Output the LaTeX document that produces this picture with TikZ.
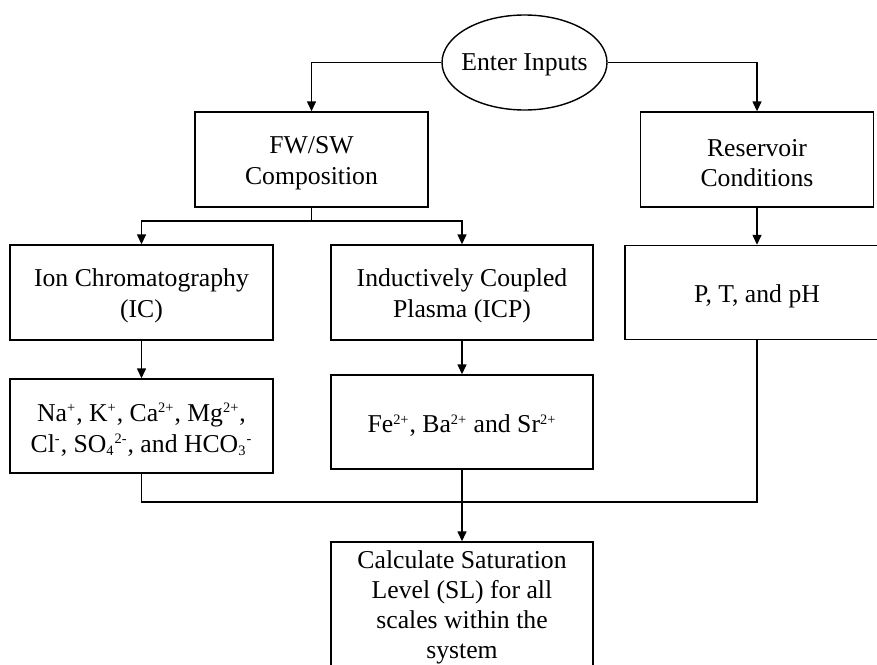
\documentclass[tikz,border=0pt]{standalone}
\usepackage{fontspec}
\setmainfont{Liberation Serif}
\usetikzlibrary{arrows.meta,shapes.geometric}
\newcommand\mysup[1]{\textsuperscript{\fontsize{7.2pt}{7.2pt}\selectfont #1}}
\newcommand\mysub[1]{\textsubscript{\fontsize{7.2pt}{7.2pt}\selectfont #1}}
\begin{document}
\begin{tikzpicture}[x=0.5pt,y=-0.5pt,
  every node/.style={font=\fontsize{12.85pt}{15.3pt}\selectfont},
  boxnode/.style={draw,line width=0.7pt,rectangle,inner sep=0pt},
  txt/.style={align=center,inner sep=0pt,yshift=-1.8pt},
  ovalnode/.style={draw,line width=0.7pt,ellipse,inner sep=0pt,minimum width=82.5pt,minimum height=47.5pt},
  conn/.style={line width=0.7pt},
  arr/.style={conn,-{Triangle[length=5pt,width=4.5pt]}}]
\useasboundingbox (0,0) rectangle (877,664);
\node[ovalnode,label={[txt,yshift=0.8pt]center:Enter Inputs}] (e) at (524.5,62.5) {};
\node[boxnode,minimum width=116.5pt,minimum height=47.5pt,label={[txt]center:{FW/SW\\Composition}}] (fw) at (311.5,159.5) {};
\node[boxnode,minimum width=116.5pt,minimum height=47.5pt,label={[txt]center:{Reservoir\\Conditions}}] (res) at (757,159.5) {};
\node[boxnode,minimum width=131.5pt,minimum height=47.5pt,label={[txt]center:{Ion Chromatography\\(IC)}}] (ic) at (141.5,292.5) {};
\node[boxnode,minimum width=131pt,minimum height=47.5pt,label={[txt]center:{Inductively Coupled\\Plasma (ICP)}}] (icp) at (462,292.5) {};
\node[boxnode,minimum width=132pt,minimum height=47pt,label={[txt]center:{P, T, and pH}}] (pt) at (757,292.5) {};
\node[boxnode,minimum width=131.5pt,minimum height=47pt,label={[txt]center:{Na\mysup{+}, K\mysup{+}, Ca\mysup{2+}, Mg\mysup{2+},\\Cl\mysup{-}, SO\mysub{4}\mysup{2-}, and HCO\mysub{3}\mysup{-}}}] (ions) at (141.5,426) {};
\node[boxnode,minimum width=131pt,minimum height=47pt,label={[txt]center:{Fe\mysup{2+}, Ba\mysup{2+} and Sr\mysup{2+}}}] (fe) at (462,422) {};
\node[boxnode,minimum width=131pt,minimum height=65pt,label={[txt,yshift=1.6pt,font=\fontsize{12.85pt}{15pt}\selectfont]center:{Calculate Saturation\\Level (SL) for all\\scales within the\\system}}] (calc) at (462,607) {};
\coordinate (br) at (311.5,221);
\coordinate (jl) at (141.5,502);
\coordinate (jr) at (757,502);
\draw[arr] (e.west) -| (fw.north);
\draw[arr] (e.east) -| (res.north);
\draw[conn] (fw.south) -- (br);
\draw[arr] (br) -| (ic.north);
\draw[arr] (br) -| (icp.north);
\draw[arr] (res.south) -- (pt.north);
\draw[arr] (ic.south) -- (ions.north);
\draw[arr] (icp.south) -- (fe.north);
\draw[conn] (ions.south) -- (jl) -- (jr) -- (pt.south);
\draw[arr] (fe.south) -- (calc.north);
\end{tikzpicture}
\end{document}
